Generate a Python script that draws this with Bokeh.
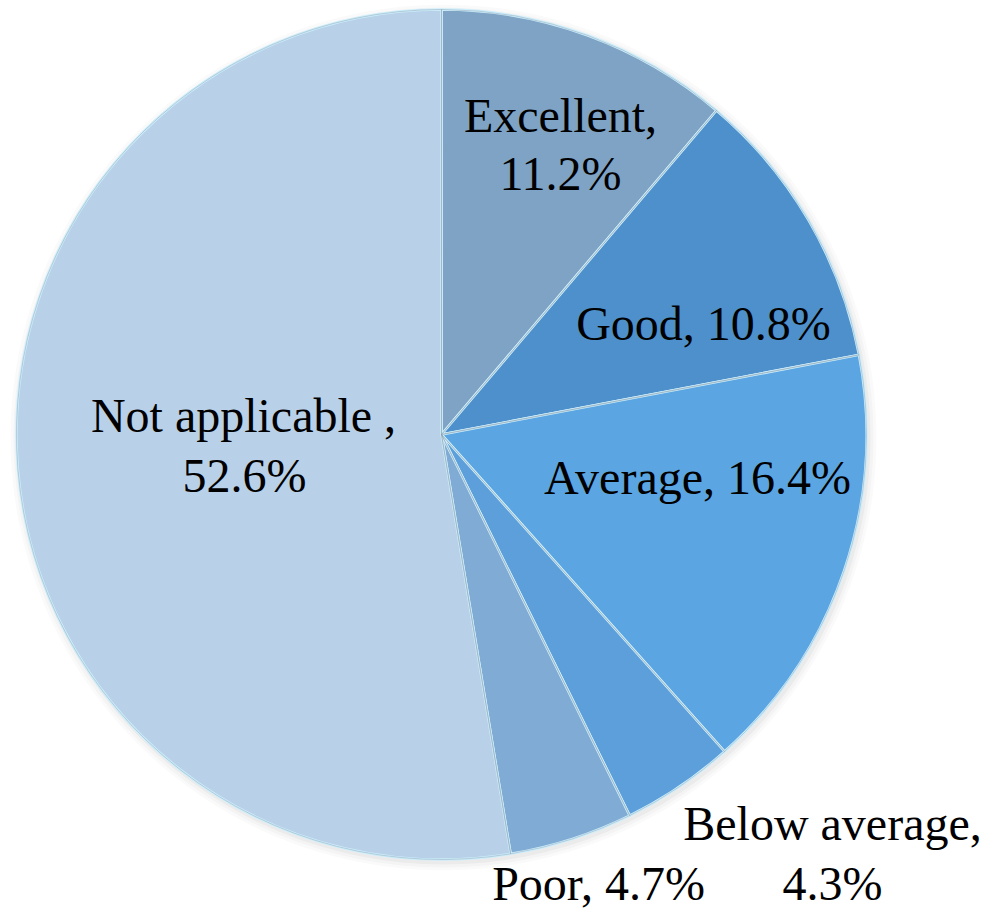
import math
from bokeh.plotting import figure
from bokeh.models import Range1d, ColumnDataSource
from bokeh.core.properties import value
from bokeh.embed import file_html
from bokeh.resources import INLINE

# ---- data ----
categories = ["Excellent", "Good", "Average", "Below average", "Poor", "Not applicable "]
percent = [11.2, 10.8, 16.4, 4.3, 4.7, 52.6]
colors = ["#7ea3c5", "#4d90cc", "#5ba6e2", "#5c9fda", "#80abd4", "#b8d0e8"]

# label layout (pixel positions of each line: x center, baseline y from top)
label_lines = [
    [("Excellent,", 560, 130), ("{v}%", 560, 188)],
    [("Good, {v}%", 703, 338)],
    [("Average, {v}%", 697, 492)],
    [("Below average,", 832, 838), ("{v}%", 832, 898)],
    [("Poor, {v}%", 598, 898)],
    [("Not applicable ,", 243, 430), ("{v}%", 244, 490)],
]
BASELINE_SHIFT = 15  # renderer puts alphabetic baseline lower than requested

W, H = 986, 912
cx, cy_px, R = 441, 434, 425

p = figure(width=W, height=H, output_backend="svg", toolbar_location=None,
           x_range=Range1d(0, W), y_range=Range1d(0, H), min_border=0)
p.axis.visible = False
p.grid.visible = False
p.outline_line_color = None
p.background_fill_color = "white"
p.border_fill_color = "white"

cy = H - cy_px

# soft shadow
for i, a in enumerate([0.04, 0.05, 0.07]):
    p.circle(x=[cx + 2], y=[cy - 3], radius=R + 8 - 3 * i, fill_color="#808080",
             fill_alpha=a, line_color=None)

total = sum(percent)
starts, ends = [], []
cum = 0.0
for v in percent:
    starts.append(math.pi / 2 - 2 * math.pi * cum / total)
    cum += v
    ends.append(math.pi / 2 - 2 * math.pi * cum / total)

src = ColumnDataSource(dict(cat=categories, start=starts, end=ends, color=colors,
                            x=[cx] * len(categories), y=[cy] * len(categories)))
p.wedge(x="x", y="y", radius=R, start_angle="start", end_angle="end",
        direction="clock", fill_color="color", line_color="#cdeefc",
        line_width=2.5, source=src)
# thin gray outline
p.wedge(x="x", y="y", radius=R, start_angle="start", end_angle="end",
        direction="clock", fill_color=None, line_color="#8a9aa8",
        line_width=0.6, line_alpha=0.7, source=src)

tx, ty, tt = [], [], []
for v, lines in zip(percent, label_lines):
    for txt, x, yb in lines:
        tx.append(x)
        ty.append(H - yb + BASELINE_SHIFT)
        tt.append(txt.format(v=v))

p.text(x=tx, y=ty, text=tt, text_align="center", text_baseline="alphabetic",
       text_font=value("Liberation Serif"), text_font_size="48px", text_color="black")

open("out.html", "w").write(file_html(p, INLINE))
